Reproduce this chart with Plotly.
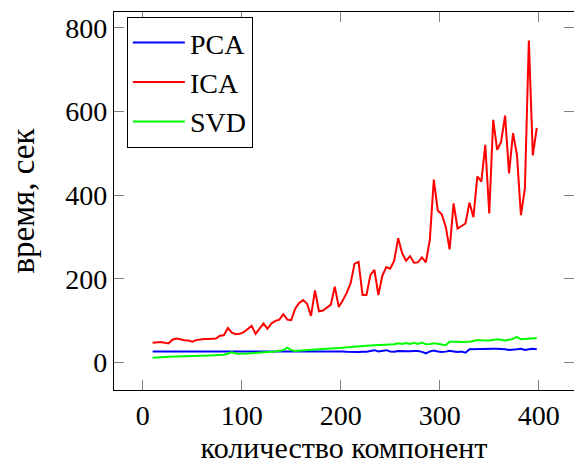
import plotly.graph_objects as go

# x grid: number of components
n_components = list(range(10, 399, 4))

ica_time = [
    47, 48, 48.5, 47, 45, 54, 57, 55, 52.5, 52,
    49.5, 53, 55, 55.5, 55.5, 56.5, 57, 63.5, 64.5, 82,
    71, 67, 68, 72, 80, 87, 68, 80, 93, 80,
    93, 99, 102, 115, 102, 101, 128, 142, 149, 140,
    111, 172, 122, 124, 130, 138, 181, 132, 148, 166,
    189, 236, 240, 161, 161, 209, 221, 161, 207, 228,
    224, 243, 297, 261, 243, 254, 238, 239, 251, 239,
    293, 437, 363, 354, 325, 270, 380, 320, 326, 332,
    382, 347, 445, 432, 520, 356, 580, 508, 528, 590,
    452, 548, 496, 352, 416, 770, 495, 561,
]

pca_time = [
    26, 26, 26, 26, 26, 26, 26, 26, 26, 26,
    26, 26, 26, 26, 26, 26, 26, 26, 26, 26,
    26, 26, 26, 26, 26, 26, 26, 26, 26, 26,
    26, 26, 26, 26, 26, 26, 26.5, 26.5, 26.5, 26.5,
    27, 27, 27, 27, 27, 27, 27.5, 27, 26, 25,
    24.5, 24.5, 24.5, 25, 25, 27, 29, 26, 27, 29,
    26, 25.5, 27, 26.5, 26, 26.5, 27, 27, 25, 21.5,
    26, 28, 26, 24.5, 25.5, 27.5, 26, 24.5, 25.5, 23,
    31, 31.5, 32, 32.5, 32.5, 32.5, 32.5, 32.5, 32.5, 31,
    29.5, 29.5, 31, 32.5, 29.5, 31, 32.5, 31,
]

svd_time = [
    11, 11, 12, 12.5, 13, 13.5, 13.5, 14, 14, 14.5,
    14.5, 15, 15.5, 15.5, 16, 16.5, 17, 17.5, 18, 21,
    24, 21, 20, 20.5, 21, 21.5, 22, 22.5, 23.5, 24,
    25, 26, 27.5, 29, 35, 29, 27, 28, 29, 29.5,
    30, 30.5, 31, 32, 32.5, 33, 33.5, 34, 35, 35.5,
    36.5, 37, 38, 38.5, 39.5, 40, 40.5, 41, 42, 42,
    42.5, 43, 45.5, 44, 46, 44, 46.5, 44, 47, 43,
    44, 45.5, 44.5, 42, 41, 49, 49.5, 49, 48.5, 48.5,
    49, 51, 53, 52.5, 52, 52, 53.5, 55, 54, 52,
    54, 56, 61, 55, 56, 57, 56.5, 58,
]

x_ticks = [0, 100, 200, 300, 400]
y_ticks = [0, 200, 400, 600, 800]

FONT = "Liberation Serif"

fig = go.Figure()
fig.add_trace(go.Scatter(x=n_components, y=pca_time, mode="lines", name="PCA",
                         line=dict(color="#0000ff", width=2)))
fig.add_trace(go.Scatter(x=n_components, y=ica_time, mode="lines", name="ICA",
                         line=dict(color="#ff0000", width=2)))
fig.add_trace(go.Scatter(x=n_components, y=svd_time, mode="lines", name="SVD",
                         line=dict(color="#00ff00", width=2)))

axis_common = dict(
    showline=True, linecolor="black", linewidth=1.3, mirror="allticks",
    ticks="inside", ticklen=10, tickwidth=1, tickcolor="#808080",
    showgrid=False, zeroline=False,
    tickfont=dict(family=FONT, size=28, color="black"),
)

fig.update_layout(
    width=574, height=464,
    margin=dict(l=114, r=0, t=12, b=74),
    paper_bgcolor="white", plot_bgcolor="white",
    xaxis=dict(range=[-29, 435.6], tickvals=x_ticks,
               title=dict(text="количество компонент", font=dict(family=FONT, size=30, color="black"), standoff=6),
               **axis_common),
    yaxis=dict(range=[-66.3, 838], tickvals=y_ticks,
               title=dict(text="время, сек", font=dict(family=FONT, size=33, color="black"), standoff=20),
               **axis_common),
    legend=dict(x=0.028, y=0.987, xanchor="left", yanchor="top",
                bordercolor="black", borderwidth=1, bgcolor="white",
                font=dict(family=FONT, size=28, color="black"),
                itemwidth=52, tracegroupgap=0),
    showlegend=True,
)

fig.write_html("out.html")
